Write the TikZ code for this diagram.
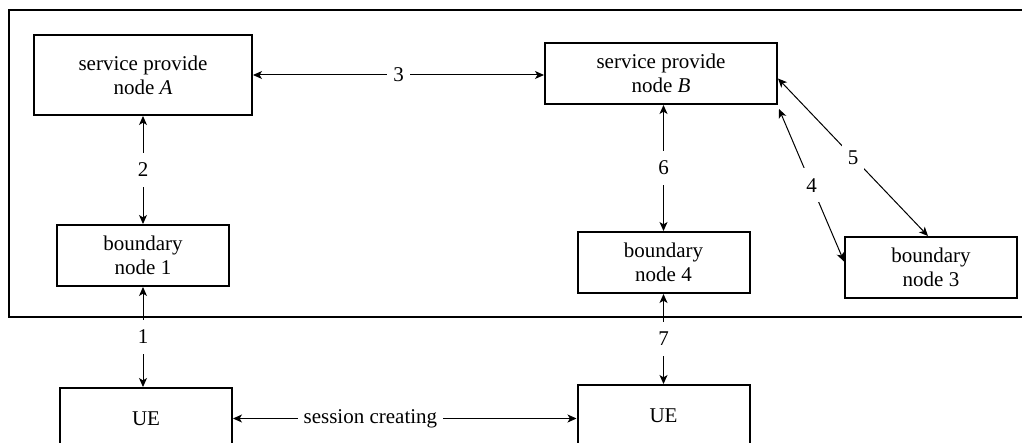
\documentclass[tikz,border=0pt]{standalone}
\usepackage{fontspec}
\setmainfont{Liberation Serif}
\usepackage{tikz}
\usetikzlibrary{arrows.meta, positioning}

\begin{document}
\begin{tikzpicture}[
        x=0.5pt, y=-0.5pt,
        font=\fontsize{10.5}{12}\selectfont,
        box/.style={rectangle, draw, line width=1pt, align=center, inner sep=0pt, minimum width=86pt, minimum height=30.5pt},
        frame/.style={draw, line width=1pt},
        link/.style={draw, line width=0.5pt, {Stealth[length=4.5pt, width=4pt, inset=1.2pt]}-{Stealth[length=4.5pt, width=4pt, inset=1.2pt]}},
        tag/.style={fill=white, inner xsep=3pt, inner ysep=5pt}
    ]
        \clip (0,0) rectangle (1022,443);

        % service domain
        \draw [frame] (9,10) rectangle (1060,317);

        \node [box, minimum width=109pt, minimum height=40pt] (spA) at (143,75) {service provide\\node \textit{A}};
        \node [box, minimum width=116pt, right=145.5pt of spA, yshift=0.75pt] (spB) {service provide\\node \textit{B}};
        \node [box, below=54pt of spA] (bn1) {boundary\\node 1};
        \node [box, below=63pt of spB, xshift=1.25pt] (bn4) {boundary\\node 4};
        \node [box, below right=65.5pt and 33pt of spB] (bn3) {boundary\\node 3};

        % terminals
        \node [box, below=50pt of bn1, xshift=1.5pt] (ueA) {UE};
        \node [box, below=45pt of bn4] (ueB) {UE};

        \path [link] (spA.east) -- node[tag] {3} (spA.east -| spB.west);
        \path [link] (spA) -- node[tag] {2} (bn1);
        \path [link] (bn1.south) -- node[tag] {1} (bn1.south |- ueA.north);
        \path [link] (bn4.north |- spB.south) -- node[tag] {6} (bn4.north);
        \path [link] (bn4) -- node[tag] {7} (ueB);
        \path [link] ([xshift=0.5pt, yshift=-2pt]spB.south east) -- node[tag] {4} ([yshift=3pt]bn3.west);
        \path [link] ([yshift=-2.5pt]spB.east) -- node[tag] {5} ([xshift=-1.5pt]bn3.north);
        \path [link] (ueA.east) -- node[tag, pos=0.4] {session creating} (ueA.east -| ueB.west);
\end{tikzpicture}
\end{document}
